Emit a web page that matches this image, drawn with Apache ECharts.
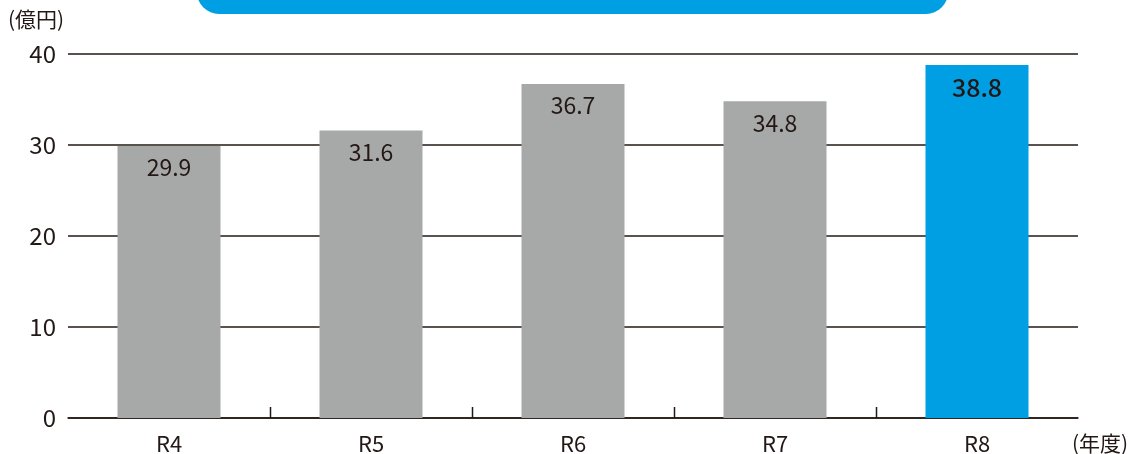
<!DOCTYPE html>
<html><head><meta charset="utf-8">
<script src="https://cdn.jsdelivr.net/npm/echarts@6/dist/echarts.min.js"></script>
<style>html,body{margin:0;padding:0;background:#fff}#c{width:1137px;height:454px}</style>
</head><body><div id="c"></div>
<script>
const categories = ['R4', 'R5', 'R6', 'R7', 'R8'];
const values = [29.9, 31.6, 36.7, 34.8, 38.8];
const yTicks = [0, 10, 20, 30, 40];
const highlightIndex = 4;

const FONT = '"Noto Sans CJK JP", "Noto Sans", sans-serif';
const INK = '#231815';
const chart = echarts.init(document.getElementById('c'), null, {renderer: 'canvas'});
const option = {
  animation: false,
  textStyle: {fontFamily: FONT},
  grid: {left: 68, right: 59, top: 54, bottom: 36, containLabel: false, outerBoundsMode: 'none'},
  xAxis: {
    type: 'category', data: categories, boundaryGap: true,
    axisLine: {show: true, lineStyle: {color: INK, width: 1.5}},
    axisTick: {show: false},
    axisLabel: {color: INK, fontSize: 22, margin: 15, fontFamily: FONT},
    name: '(年度)', nameLocation: 'end', nameGap: 0,
    nameTextStyle: {color: INK, fontSize: 21, fontFamily: FONT, align: 'left', verticalAlign: 'top', padding: [15, 0, 0, -6]}
  },
  yAxis: {
    type: 'value', min: yTicks[0], max: yTicks[yTicks.length - 1], interval: 10,
    axisLine: {show: false}, axisTick: {show: false},
    axisLabel: {color: INK, fontSize: 24, margin: 12, fontFamily: FONT},
    splitLine: {show: true, lineStyle: {color: INK, width: 1.5}},
    name: '(億円)', nameLocation: 'end', nameGap: 24,
    nameTextStyle: {color: INK, fontSize: 21, fontFamily: FONT, align: 'left', padding: [0, 0, 0, -60]}
  },
  series: [{
    type: 'bar', barWidth: '51%',
    data: values.map((v, i) => ({
      value: v,
      itemStyle: {color: i === highlightIndex ? '#009fe3' : '#a7a9a8'},
      label: i === highlightIndex ? {fontSize: 25, fontWeight: 500} : {}
    })),
    label: {show: true, position: 'insideTop', distance: 10, color: INK, fontSize: 23, fontFamily: FONT}
  }]
};
chart.setOption(option);

// boundary ticks between categories (inside, pointing up), computed from the axis scale
const y0 = chart.convertToPixel({yAxisIndex: 0}, 0);
const elements = [{
  type: 'rect', shape: {x: 197, y: -40, width: 751, height: 54, r: 22},
  style: {fill: '#009fe3'}, z: 10
}];
for (let i = 0; i < categories.length - 1; i++) {
  const a = chart.convertToPixel({xAxisIndex: 0}, i);
  const b = chart.convertToPixel({xAxisIndex: 0}, i + 1);
  const x = Math.round((a + b) / 2) + 0.5;
  elements.push({type: 'line', shape: {x1: x, y1: y0, x2: x, y2: y0 - 11}, style: {stroke: INK, lineWidth: 1.5}, z: 10});
}
chart.setOption({graphic: {elements}});
</script></body></html>
